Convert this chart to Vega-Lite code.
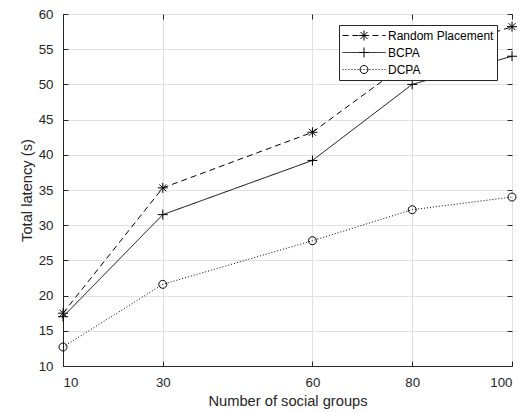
{
  "$schema": "https://vega.github.io/schema/vega-lite/v6.json",
  "width": 449,
  "height": 352,
  "autosize": "none",
  "padding": {"left": 63, "top": 14, "right": 20, "bottom": 46},
  "background": "white",
  "config": {
    "font": "Liberation Sans",
    "view": {"stroke": "#262626", "strokeWidth": 1},
    "axis": {
      "labelFont": "Liberation Sans",
      "titleFont": "Liberation Sans",
      "labelFontSize": 13.3,
      "titleFontSize": 14.7,
      "titleFontWeight": "normal",
      "labelColor": "#262626",
      "titleColor": "#262626",
      "domainColor": "#262626",
      "tickColor": "#262626",
      "gridColor": "#e1e1e1",
      "gridWidth": 1
    }
  },
  "data": {
    "values": [
      {"groups": 10, "latency": 17.5, "method": "Random Placement"},
      {"groups": 30, "latency": 35.3, "method": "Random Placement"},
      {"groups": 60, "latency": 43.2, "method": "Random Placement"},
      {"groups": 80, "latency": 53.6, "method": "Random Placement"},
      {"groups": 100, "latency": 58.2, "method": "Random Placement"},
      {"groups": 10, "latency": 17.0, "method": "BCPA"},
      {"groups": 30, "latency": 31.5, "method": "BCPA"},
      {"groups": 60, "latency": 39.2, "method": "BCPA"},
      {"groups": 80, "latency": 50.0, "method": "BCPA"},
      {"groups": 100, "latency": 54.0, "method": "BCPA"},
      {"groups": 10, "latency": 12.7, "method": "DCPA"},
      {"groups": 30, "latency": 21.6, "method": "DCPA"},
      {"groups": 60, "latency": 27.8, "method": "DCPA"},
      {"groups": 80, "latency": 32.2, "method": "DCPA"},
      {"groups": 100, "latency": 34.0, "method": "DCPA"}
    ]
  },
  "resolve": {"axis": {"x": "independent", "y": "independent"}},
  "layer": [
    {
      "mark": {"type": "line", "color": "black", "strokeWidth": 1},
      "encoding": {
        "x": {
          "field": "groups", "type": "quantitative",
          "scale": {"domain": [10, 100], "nice": false, "zero": false},
          "axis": {"title": "Number of social groups", "values": [10, 30, 60, 80, 100], "tickSize": -5, "labelPadding": 14, "titlePadding": 5, "grid": true, "format": "d"}
        },
        "y": {
          "field": "latency", "type": "quantitative",
          "scale": {"domain": [10, 60], "nice": false, "zero": false},
          "axis": {"title": "Total latency (s)", "values": [10, 15, 20, 25, 30, 35, 40, 45, 50, 55, 60], "tickSize": -5, "labelPadding": 15, "titlePadding": 4, "grid": true, "format": "d"}
        },
        "strokeDash": {
          "field": "method", "type": "nominal",
          "scale": {"domain": ["Random Placement", "BCPA", "DCPA"], "range": [[6, 4], [1, 0], [1, 2]]},
          "legend": {
            "title": null, "orient": "none", "legendX": 276, "legendY": 11,
            "symbolType": "stroke", "symbolSize": 1849, "symbolStrokeWidth": 1, "symbolStrokeColor": "black",
            "clipHeight": 15, "rowPadding": 2, "padding": 3,
            "labelFont": "Liberation Sans", "labelFontSize": 12, "labelColor": "black", "labelOffset": 2,
            "fillColor": "white", "strokeColor": "#262626", "zindex": 1
          }
        }
      }
    },
    {
      "mark": {"type": "point", "filled": false, "color": "black", "strokeWidth": 1, "size": 100, "opacity": 1},
      "encoding": {
        "x": {
          "field": "groups", "type": "quantitative",
          "axis": {"orient": "top", "title": null, "values": [10, 30, 60, 80, 100], "tickSize": -5, "labels": false, "domain": false, "grid": false}
        },
        "y": {
          "field": "latency", "type": "quantitative",
          "axis": {"orient": "right", "title": null, "values": [10, 15, 20, 25, 30, 35, 40, 45, 50, 55, 60], "tickSize": -5, "labels": false, "domain": false, "grid": false}
        },
        "shape": {
          "field": "method", "type": "nominal",
          "sort": ["Random Placement", "BCPA", "DCPA"],
          "scale": {"range": ["M-1,0L1,0M0,-1L0,1M-0.7,-0.7L0.7,0.7M-0.7,0.7L0.7,-0.7", "M-1,0L1,0M0,-1L0,1", "M0.8,0A0.8,0.8,0,1,1,-0.8,0A0.8,0.8,0,1,1,0.8,0"]},
          "legend": {
            "title": null, "orient": "none", "legendX": 276, "legendY": 11,
            "symbolSize": 100, "symbolStrokeWidth": 1, "symbolStrokeColor": "black", "symbolFillColor": "transparent",
            "symbolOffset": 16,
            "clipHeight": 15, "rowPadding": 2, "padding": 3,
            "labelFont": "Liberation Sans", "labelFontSize": 12, "labelExpr": "''", "labelOffset": 2,
            "zindex": 2
          }
        }
      }
    }
  ]
}
